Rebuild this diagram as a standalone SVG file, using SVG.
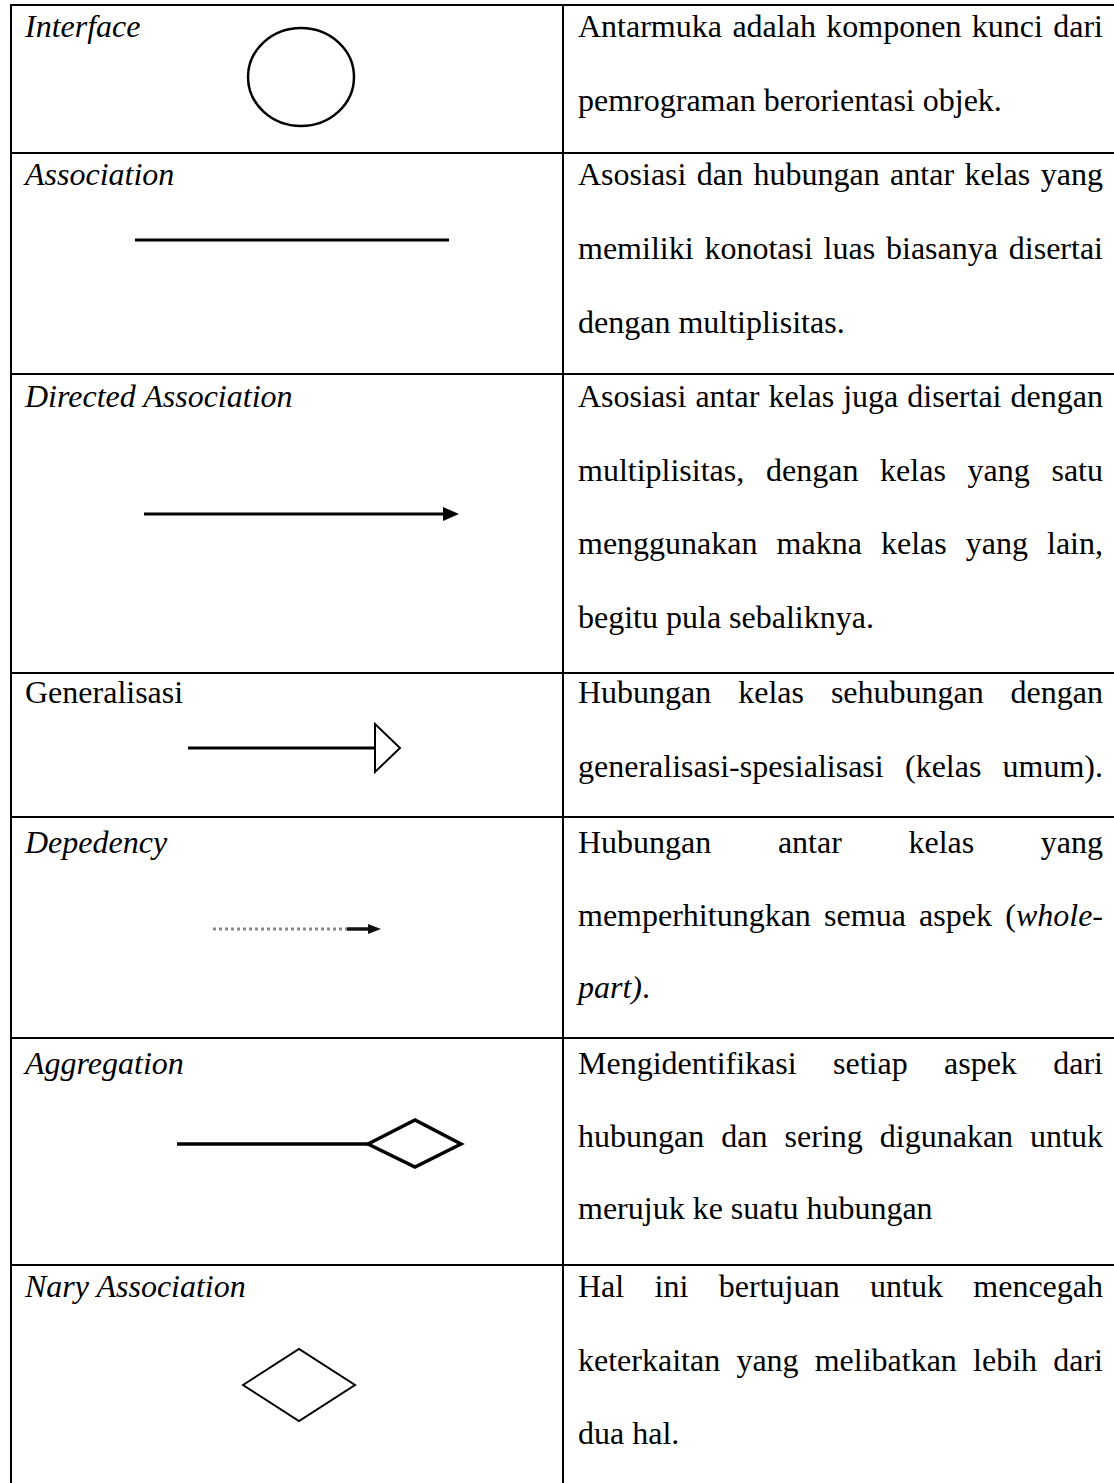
<svg xmlns="http://www.w3.org/2000/svg" width="1114" height="1483" viewBox="0 0 1114 1483">
<style>
.t{font-family:"Liberation Serif","Times New Roman",serif;font-size:32px;fill:#000}
.i{font-style:italic}
.e{text-anchor:end}
.grid{stroke:#000;stroke-width:2;fill:none}
.sym{stroke:#000;fill:none}
</style>
<rect width="1114" height="1483" fill="#fff"/>
<g id="table" class="grid">
<line x1="10" y1="5" x2="1114" y2="5"/>
<line x1="11" y1="5" x2="11" y2="1483"/>
<line x1="563" y1="5" x2="563" y2="1483"/>
<line x1="10" y1="153" x2="1114" y2="153"/>
<line x1="10" y1="374" x2="1114" y2="374"/>
<line x1="10" y1="673" x2="1114" y2="673"/>
<line x1="10" y1="817" x2="1114" y2="817"/>
<line x1="10" y1="1038" x2="1114" y2="1038"/>
<line x1="10" y1="1265" x2="1114" y2="1265"/>
</g>
<g id="row-interface">
<text class="t i" x="25" y="37">Interface</text>
<ellipse class="sym" cx="301" cy="77" rx="53" ry="49" stroke-width="2.5"/>
<text class="t" y="37"><tspan x="578">Antarmuka</tspan><tspan x="732.4">adalah</tspan><tspan x="826.3">komponen</tspan><tspan x="971.8">kunci</tspan></text>
<text class="t e" x="1103" y="37">dari</text>
<text class="t" x="578" y="111">pemrograman berorientasi objek.</text>
</g>
<g id="row-association">
<text class="t i" x="25" y="185">Association</text>
<line class="sym" x1="135" y1="240" x2="449" y2="240" stroke-width="3"/>
<text class="t" y="185"><tspan x="578">Asosiasi</tspan><tspan x="696.8">dan</tspan><tspan x="753.5">hubungan</tspan><tspan x="890.1">antar</tspan><tspan x="964.5">kelas</tspan></text>
<text class="t e" x="1103" y="185">yang</text>
<text class="t" y="259"><tspan x="578">memiliki</tspan><tspan x="704.4">konotasi</tspan><tspan x="823.6">luas</tspan><tspan x="886">biasanya</tspan></text>
<text class="t e" x="1103" y="259">disertai</text>
<text class="t" x="578" y="333">dengan multiplisitas.</text>
</g>
<g id="row-directed">
<text class="t i" x="25" y="407">Directed Association</text>
<line class="sym" x1="144" y1="514" x2="446" y2="514" stroke-width="3"/>
<polygon points="443,507 459,514 443,521" fill="#000"/>
<text class="t" y="407"><tspan x="578">Asosiasi</tspan><tspan x="695.4">antar</tspan><tspan x="768.4">kelas</tspan><tspan x="843.2">juga</tspan><tspan x="907.3">disertai</tspan></text>
<text class="t e" x="1103" y="407">dengan</text>
<text class="t" y="481"><tspan x="578">multiplisitas,</tspan><tspan x="766.1">dengan</tspan><tspan x="880.1">kelas</tspan><tspan x="967.5">yang</tspan></text>
<text class="t e" x="1103" y="481">satu</text>
<text class="t" y="554"><tspan x="578">menggunakan</tspan><tspan x="776.6">makna</tspan><tspan x="881">kelas</tspan><tspan x="965.8">yang</tspan></text>
<text class="t e" x="1103" y="554">lain,</text>
<text class="t" x="578" y="628">begitu pula sebaliknya.</text>
</g>
<g id="row-generalisasi">
<text class="t" x="25" y="703">Generalisasi</text>
<line class="sym" x1="188" y1="748" x2="374" y2="748" stroke-width="3"/>
<polygon class="sym" points="375,724 400,748 375,772" stroke-width="2"/>
<text class="t" y="703"><tspan x="578">Hubungan</tspan><tspan x="738.2">kelas</tspan><tspan x="830.9">sehubungan</tspan></text>
<text class="t e" x="1103" y="703">dengan</text>
<text class="t" y="777"><tspan x="578">generalisasi-spesialisasi</tspan><tspan x="905">(kelas</tspan></text>
<text class="t e" x="1103" y="777">umum).</text>
</g>
<g id="row-dependency">
<text class="t i" x="25" y="853">Depedency</text>
<line x1="213" y1="929" x2="347" y2="929" stroke="#888" stroke-width="3" stroke-dasharray="3,3"/>
<line x1="347" y1="929" x2="372" y2="929" stroke="#111" stroke-width="3.5"/>
<polygon points="368,924 381,929 368,934" fill="#111"/>
<text class="t" y="853"><tspan x="578">Hubungan</tspan><tspan x="777.9">antar</tspan><tspan x="908.5">kelas</tspan></text>
<text class="t e" x="1103" y="853">yang</text>
<text class="t" y="926"><tspan x="578">memperhitungkan</tspan><tspan x="824.1">semua</tspan><tspan x="919.1">aspek</tspan></text>
<text class="t e" x="1103" y="926">(<tspan class="i">whole-</tspan></text>
<text class="t" x="578" y="998"><tspan class="i">part)</tspan>.</text>
</g>
<g id="row-aggregation">
<text class="t i" x="25" y="1074">Aggregation</text>
<line class="sym" x1="177" y1="1144" x2="368" y2="1144" stroke-width="3.5"/>
<polygon class="sym" points="368,1144 415,1120 461,1144 415,1167" stroke-width="3.5"/>
<text class="t" y="1074"><tspan x="578">Mengidentifikasi</tspan><tspan x="833">setiap</tspan><tspan x="944">aspek</tspan></text>
<text class="t e" x="1103" y="1074">dari</text>
<text class="t" y="1147"><tspan x="578">hubungan</tspan><tspan x="721.3">dan</tspan><tspan x="784.5">sering</tspan><tspan x="879.8">digunakan</tspan></text>
<text class="t e" x="1103" y="1147">untuk</text>
<text class="t" x="578" y="1219">merujuk ke suatu hubungan</text>
</g>
<g id="row-nary">
<text class="t i" x="25" y="1297">Nary Association</text>
<polygon class="sym" points="243,1385 299,1349 355,1385 299,1421" stroke-width="2"/>
<text class="t" y="1297"><tspan x="578">Hal</tspan><tspan x="654.6">ini</tspan><tspan x="718.8">bertujuan</tspan><tspan x="870.1">untuk</tspan></text>
<text class="t e" x="1103" y="1297">mencegah</text>
<text class="t" y="1371"><tspan x="578">keterkaitan</tspan><tspan x="736.4">yang</tspan><tspan x="814.7">melibatkan</tspan><tspan x="973.1">lebih</tspan></text>
<text class="t e" x="1103" y="1371">dari</text>
<text class="t" x="578" y="1444">dua hal.</text>
</g>
</svg>
